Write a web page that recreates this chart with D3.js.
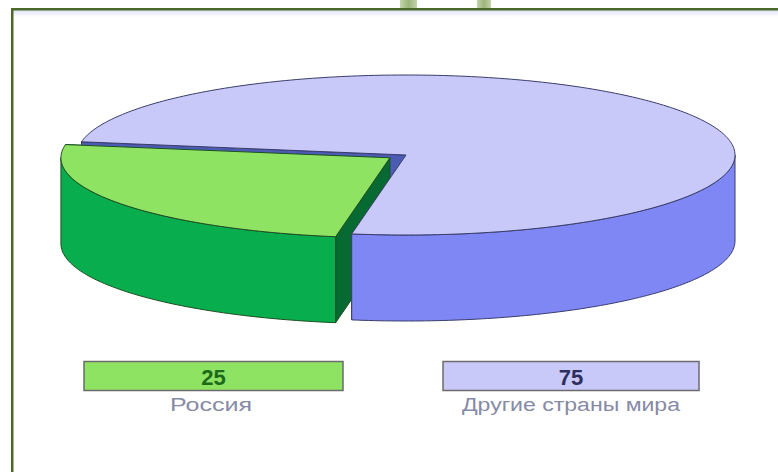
<!DOCTYPE html>
<html><head><meta charset="utf-8">
<script src="https://cdn.jsdelivr.net/npm/d3@7"></script>
<style>html,body{margin:0;padding:0;background:#fff;}svg{display:block;}</style>
</head><body>
<svg id="chart" width="778" height="472"></svg>
<script>
// ---- data ----
const categories = ["Россия", "Другие страны мира"];
const values = [25, 75];
const explode = [0.06, 0];

// ---- styles ----
const topColors = ["#8fe362", "#c8c9f8"];
const sideColors = ["#08ae4e", "#7f87f5"];
const faceColors = ["#076a32", "#4c5cb4"];
const strokeColors = ["#1d4f22", "#3a3d6c"];
const valueColors = ["#1b6b1b", "#2e2f5e"];

const W = 778, H = 472;
const svg = d3.select("#chart");

// background + frame
const defs = svg.append("defs");
const g1 = defs.append("linearGradient").attr("id","topfade").attr("x1",0).attr("x2",0).attr("y1",0).attr("y2",1);
g1.append("stop").attr("offset","0%").attr("stop-color","#dfe2f6");
g1.append("stop").attr("offset","100%").attr("stop-color","#ffffff");
const g2 = defs.append("linearGradient").attr("id","deco").attr("x1",0).attr("x2",1).attr("y1",0).attr("y2",0);
g2.append("stop").attr("offset","0%").attr("stop-color","#c4d4ac");
g2.append("stop").attr("offset","50%").attr("stop-color","#9cb47a");
g2.append("stop").attr("offset","100%").attr("stop-color","#c4d4ac");

svg.append("rect").attr("x",0).attr("y",0).attr("width",W).attr("height",H).attr("fill","#fff");
svg.append("rect").attr("x",13).attr("y",10).attr("width",W-13).attr("height",7).attr("fill","url(#topfade)");
// decorative tabs above frame
[[400,17],[477,14]].forEach(([x,w]) => {
  svg.append("rect").attr("x",x).attr("y",0).attr("width",w).attr("height",9).attr("fill","url(#deco)");
});
svg.append("rect").attr("x",11).attr("y",8).attr("width",W-11).attr("height",2.5).attr("fill","#4b6a2a");
svg.append("rect").attr("x",11).attr("y",8).attr("width",2.5).attr("height",H-8).attr("fill","#4b6a2a");

// ---- 3D pie geometry ----
const cx = 406, cy = 155, rx = 329, ry = 80, depth = 86;
const sx = d3.scaleLinear().domain([-1,1]).range([cx-rx, cx+rx]);
const sy = d3.scaleLinear().domain([-1,1]).range([cy-ry, cy+ry]);
const theta0 = 99.5 * Math.PI/180;

const pie = d3.pie().sort(null).value(d=>d).startAngle(0).endAngle(2*Math.PI);
const arcs = pie(values).map((a,i) => {
  const s = a.startAngle + theta0, e = a.endAngle + theta0;
  const m = (s+e)/2;
  return {i, s, e, dx: explode[i]*rx*Math.cos(m), dy: explode[i]*ry*Math.sin(m)};
});

function pt(t, z, a, r=1) {
  return [sx(r*Math.cos(t)) + a.dx, sy(r*Math.sin(t)) + a.dy + z];
}
function samples(t1, t2) {
  const n = Math.max(2, Math.ceil(Math.abs(t2-t1)/(Math.PI/180)));
  return d3.range(n+1).map(k => t1 + (t2-t1)*k/n);
}
const line = d3.line().curve(d3.curveLinearClosed);

function topFace(a) {
  const pts = [pt(0,0,a,0)].concat(samples(a.s,a.e).map(t=>pt(t,0,a)));
  return line(pts);
}
function radialFace(a, t) {
  return line([pt(t,0,a,0), pt(t,0,a), pt(t,depth,a), pt(t,depth,a,0)]);
}
function sideFaces(a) {
  const out = [];
  for (let k = 0; k < 3; k++) {
    const lo = Math.max(a.s, 2*Math.PI*k), hi = Math.min(a.e, 2*Math.PI*k + Math.PI);
    if (hi > lo) {
      const ts = samples(lo, hi);
      const pts = ts.map(t=>pt(t,0,a)).concat(ts.slice().reverse().map(t=>pt(t,depth,a)));
      out.push(line(pts));
    }
  }
  return out;
}

const G = arcs[0], B = arcs[1];
const pg = svg.append("g").attr("stroke-linejoin","round");
function draw(d, fill, stroke) {
  pg.append("path").attr("d", d).attr("fill", fill).attr("stroke", stroke).attr("stroke-width", 1);
}
// painter's order
draw(radialFace(B, B.e), faceColors[1], strokeColors[1]);
draw(radialFace(G, G.e), faceColors[0], strokeColors[0]);
draw(radialFace(B, B.s), faceColors[1], strokeColors[1]);
draw(radialFace(G, G.s), faceColors[0], strokeColors[0]);
sideFaces(G).forEach(d => draw(d, sideColors[0], strokeColors[0]));
draw(topFace(G), topColors[0], strokeColors[0]);
sideFaces(B).forEach(d => draw(d, sideColors[1], strokeColors[1]));
draw(topFace(B), topColors[1], strokeColors[1]);

// ---- legend ----
const boxes = [
  {x: 84, w: 259, label: 170, lw: 82},
  {x: 443, w: 256, label: 462, lw: 218}
];
const lg = svg.append("g");
categories.forEach((c,i) => {
  const b = boxes[i];
  lg.append("rect").attr("x", b.x).attr("y", 361.5).attr("width", b.w).attr("height", 29)
    .attr("fill", topColors[i]).attr("stroke", "#6b6b6b").attr("stroke-width", 1.5);
  lg.append("text").attr("x", b.x + b.w/2).attr("y", 385).attr("text-anchor","middle")
    .attr("font-family","Liberation Sans, Arial, sans-serif").attr("font-weight","bold")
    .attr("font-size", 22).attr("fill", valueColors[i]).text(values[i]);
  lg.append("text").attr("x", b.label).attr("y", 411)
    .attr("font-family","Liberation Sans, Arial, sans-serif")
    .attr("font-size", 18).attr("fill", "#868aa6")
    .attr("textLength", b.lw).attr("lengthAdjust","spacingAndGlyphs").text(c);
});
</script>
</body></html>
